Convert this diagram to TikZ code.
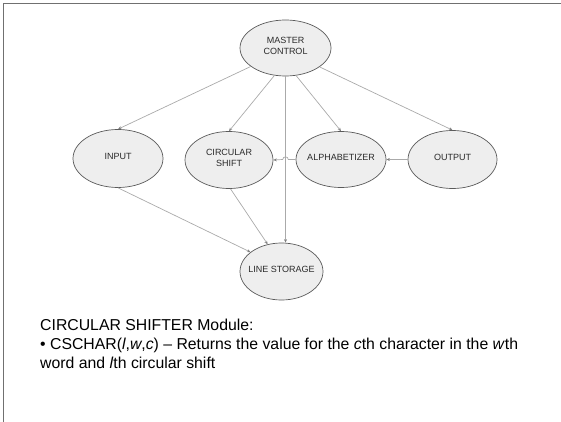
\documentclass[tikz,border=0pt]{standalone}
\usepackage{fontspec}
\setmainfont{Liberation Sans}
\usetikzlibrary{shapes.geometric,arrows.meta}
\definecolor{nodefill}{HTML}{EEEEEE}
\definecolor{nodeline}{HTML}{5A5A5A}
\definecolor{edgec}{HTML}{AAAAAA}
\definecolor{tipc}{HTML}{808080}
\definecolor{framec}{HTML}{707070}
\definecolor{txtc}{HTML}{2A2A2A}
\newcommand{\ctext}[1]{\raisebox{-2pt}{\smash{\makebox[0pt]{\begin{tabular}{@{}c@{}}#1\end{tabular}}}}}
\begin{document}
\begin{tikzpicture}[x=1pt,y=-1pt,
  modnode/.style={ellipse, draw=nodeline, fill=nodefill, line width=0.7pt, inner sep=0pt,
    font=\fontsize{9}{10.5}\selectfont, text=txtc},
  edge/.style={draw=edgec, line width=0.7pt, -{Stealth[length=3.5pt,width=3pt,color=tipc]}},
  bodytext/.style={anchor=base west, inner sep=0pt, font=\fontsize{15.8}{18}\selectfont, text=black}]
\useasboundingbox (0,0) rectangle (561,422);
\draw[framec, line width=1.3pt] (3.5,422) -- (3.5,3.5) -- (561,3.5);

\node[modnode, minimum width=91pt, minimum height=56pt] (mc) at (285.5,48) {\ctext{MASTER\\CONTROL}};
\node[modnode, minimum width=90pt, minimum height=58pt] (input) at (118,158.5) {\ctext{INPUT}};
\node[modnode, minimum width=88pt, minimum height=57pt] (cs) at (229,160) {\ctext{CIRCULAR\\SHIFT}};
\node[modnode, minimum width=90pt, minimum height=56pt] (alph) at (341,159.5) {\ctext{ALPHABETIZER}};
\node[modnode, minimum width=89pt, minimum height=58pt] (output) at (452.5,159.5) {\ctext{OUTPUT}};
\node[modnode, minimum width=83pt, minimum height=57pt] (ls) at (281.5,271.5) {\ctext{LINE STORAGE}};

\draw[edge] (mc.208) -- (input.north);
\draw[edge] (mc.248) -- (cs.north);
\draw[edge] (mc.291) -- (alph.north);
\draw[edge] (mc.331) -- (output.north);
\draw[edge] (mc.south) -- (mc.south |- ls.north);
\draw[edge] (input.south) -- (ls.148);
\draw[edge] (cs.-87) -- (ls.117);
\draw[edge] (output.west) -- (alph.east);
\coordinate (hopR) at ([xshift=2.8pt]mc.south |- alph.west);
\coordinate (hopL) at ([xshift=-2.8pt]mc.south |- alph.west);
\draw[edge] (alph.west) -- (hopR) .. controls ([yshift=3.5pt]hopR) and ([yshift=3.5pt]hopL) .. (hopL) -- (cs.east);

\node[bodytext] (t1) at (40,330) {CIRCULAR SHIFTER Module:};
\node[bodytext] (t2) at (40,349) {• CSCHAR(\textit{l},\textit{w},\textit{c}) – Returns the value for the \textit{c}th character in the \textit{w}th};
\node[bodytext] (t3) at (40,368) {word and \textit{l}th circular shift};
\end{tikzpicture}
\end{document}
